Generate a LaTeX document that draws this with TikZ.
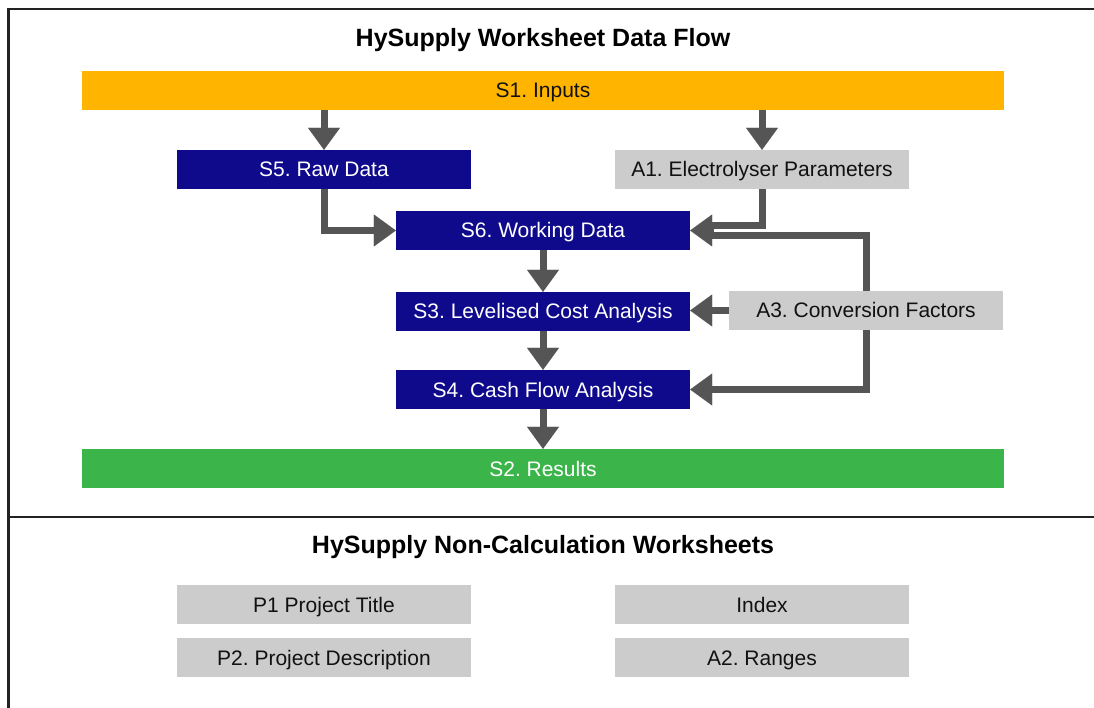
\documentclass[tikz,border=0pt]{standalone}
\usepackage{fontspec}
\setmainfont{Liberation Sans}
\usetikzlibrary{arrows.meta}
\frenchspacing
\definecolor{inorange}{HTML}{FFB400}
\definecolor{navy}{HTML}{0F0A8C}
\definecolor{sheetgray}{HTML}{CCCCCC}
\definecolor{resgreen}{HTML}{3BB54A}
\definecolor{arrowgray}{HTML}{555555}
\definecolor{framec}{HTML}{222222}
\definecolor{txtdark}{HTML}{111111}
\tikzset{
  box/.style={minimum height=39pt, inner sep=0pt, text height=15pt, text depth=0pt,
    font=\fontsize{21}{25}\selectfont},
  wide/.style={box, minimum width=922pt},
  mid/.style={box, minimum width=294pt},
  navybox/.style={mid, fill=navy, text=white},
  graybox/.style={box, fill=sheetgray, text=txtdark},
  heading/.style={anchor=base, font=\fontsize{25}{30}\selectfont\bfseries, text=black},
  flow/.style={draw=arrowgray, line width=7pt},
  flowarrow/.style={flow, -{Triangle[length=22pt,width=32pt,line width=0.01pt]}},
  frameline/.style={draw=framec, line width=2.2pt}
}
\begin{document}
\begin{tikzpicture}[x=1pt,y=-1pt]
\useasboundingbox (0,0) rectangle (1094,708);
% frame
\draw[frameline] (8.5,708) -- (8.5,9) -- (1094,9);
\draw[frameline] (8.5,517) -- (1094,517);
% headings
\node[heading] (t1) at (543,46.5) {HySupply Worksheet Data Flow};
\node[heading] (t2) at (543,553) {HySupply Non-Calculation Worksheets};
% flow boxes
\node[wide, fill=inorange, text=txtdark] (S1) at (543,90.5) {S1. Inputs};
\node[navybox] (S5) at (324,169.5) {S5. Raw Data};
\node[graybox, minimum width=294pt] (A1) at (762,169.5) {A1. Electrolyser Parameters};
\node[navybox] (S6) at (543,230.5) {S6. Working Data};
\node[navybox] (S3) at (543,311.5) {S3. Levelised Cost Analysis};
\node[graybox, minimum width=274pt] (A3) at (866,310.5) {A3. Conversion Factors};
\node[navybox] (S4) at (543,389.5) {S4. Cash Flow Analysis};
\node[wide, fill=resgreen, text=white] (S2) at (543,468.5) {S2. Results};
% non-calculation sheets
\node[graybox, minimum width=294pt] (P1) at (324,604.5) {P1 Project Title};
\node[graybox, minimum width=294pt] (IX) at (762,604.5) {Index};
\node[graybox, minimum width=294pt] (P2) at (324,657.5) {P2. Project Description};
\node[graybox, minimum width=294pt] (A2) at (762,657.5) {A2. Ranges};
% connectors
\draw[flowarrow] (S1.south -| S5.north) -- (S5.north);
\draw[flowarrow] (S1.south -| A1.north) -- (A1.north);
\draw[flowarrow] (S5.south) |- (S6.west);
\coordinate (m1) at (712,226);
\coordinate (m2) at (712,236);
\coordinate (mh) at (714,230.5);
\draw[flow] (A1.south) |- (m1);
\draw[flow] (A3.north) |- (m2);
\draw[flowarrow] (mh) -- (S6.east);
\draw[flowarrow] (S6.south) -- (S3.north);
\draw[flowarrow] (S3.south) -- (S4.north);
\draw[flowarrow] (S4.south) -- (S2.north);
\draw[flowarrow] (A3.west) -- (A3.west -| S3.east);
\draw[flowarrow] (A3.south) |- (S4.east);
\end{tikzpicture}
\end{document}
